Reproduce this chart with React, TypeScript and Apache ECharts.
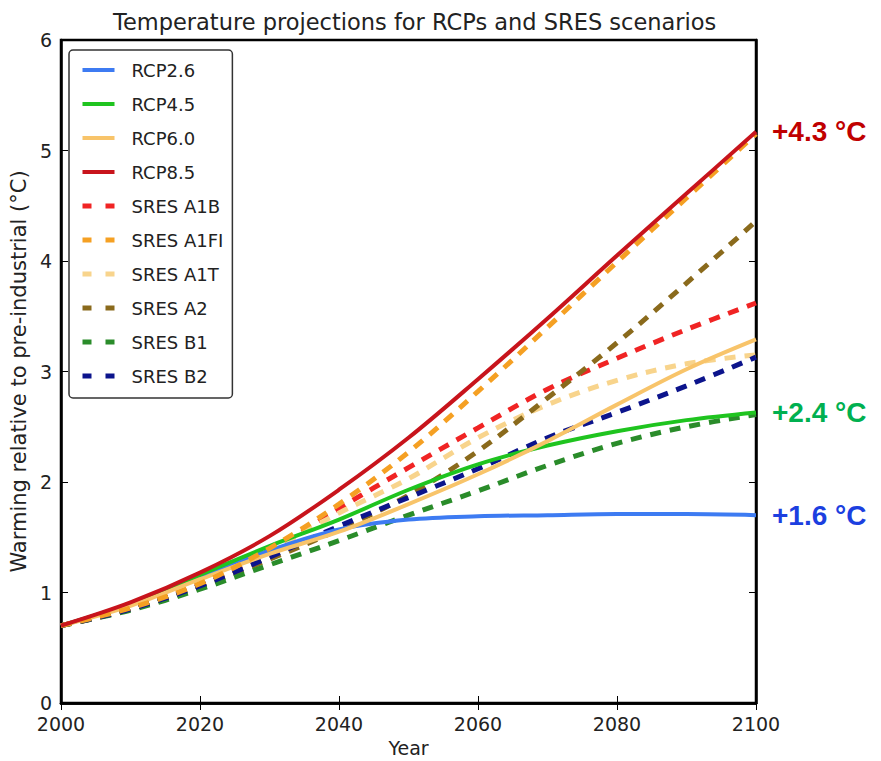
import React, { useEffect, useRef } from "react";
import * as echarts from "echarts";

const years = [2000, 2010, 2020, 2030, 2040, 2050, 2060, 2070, 2080, 2090, 2100];

const rcp26 = [0.70, 0.90, 1.15, 1.38, 1.57, 1.66, 1.69, 1.70, 1.71, 1.71, 1.70];
const rcp45 = [0.70, 0.90, 1.16, 1.42, 1.66, 1.93, 2.16, 2.33, 2.46, 2.56, 2.63];
const rcp60 = [0.70, 0.88, 1.12, 1.35, 1.55, 1.80, 2.07, 2.37, 2.70, 3.02, 3.29];
const rcp85 = [0.70, 0.91, 1.18, 1.51, 1.93, 2.40, 2.93, 3.48, 4.05, 4.61, 5.17];
const sresA1B = [0.70, 0.85, 1.07, 1.37, 1.76, 2.13, 2.49, 2.84, 3.12, 3.38, 3.62];
const sresA1FI = [0.70, 0.86, 1.08, 1.40, 1.80, 2.27, 2.82, 3.40, 3.99, 4.57, 5.15];
const sresA1T = [0.70, 0.86, 1.08, 1.38, 1.72, 2.03, 2.40, 2.70, 2.92, 3.07, 3.15];
const sresA2 = [0.70, 0.85, 1.05, 1.30, 1.57, 1.88, 2.28, 2.76, 3.26, 3.80, 4.36];
const sresB1 = [0.70, 0.84, 1.03, 1.25, 1.47, 1.70, 1.92, 2.15, 2.35, 2.50, 2.61];
const sresB2 = [0.70, 0.85, 1.06, 1.32, 1.60, 1.86, 2.12, 2.40, 2.63, 2.87, 3.13];

const endLabels: Record<string, string> = {
  "RCP2.6": "+1.6 °C",
  "RCP4.5": "+2.4 °C",
  "RCP8.5": "+4.3 °C",
};

const FONT = "'DejaVu Sans', sans-serif";

export default function App() {
  const ref = useRef<HTMLDivElement>(null);
  useEffect(() => {
    if (!ref.current) return;
    const chart = echarts.init(ref.current, undefined, { renderer: "svg" });

    const defs = [
      { name: "RCP8.5", data: rcp85, color: "#c8141c", dashed: false, z: 9, endColor: "#c00000" },
      { name: "RCP2.6", data: rcp26, color: "#3d7bf2", dashed: false, z: 5, endColor: "#1c3fe0" },
      { name: "RCP4.5", data: rcp45, color: "#1fc41f", dashed: false, z: 6, endColor: "#00b050" },
      { name: "RCP6.0", data: rcp60, color: "#f8c46a", dashed: false, z: 7, endColor: "" },
      { name: "SRES A1B", data: sresA1B, color: "#f02424", dashed: true, z: 3, endColor: "" },
      { name: "SRES A1FI", data: sresA1FI, color: "#f5a023", dashed: true, z: 8, endColor: "" },
      { name: "SRES A1T", data: sresA1T, color: "#f8d48c", dashed: true, z: 3, endColor: "" },
      { name: "SRES A2", data: sresA2, color: "#8a6a1c", dashed: true, z: 3, endColor: "" },
      { name: "SRES B1", data: sresB1, color: "#2a8c2a", dashed: true, z: 3, endColor: "" },
      { name: "SRES B2", data: sresB2, color: "#0c148c", dashed: true, z: 3, endColor: "" },
    ];

    const legendOrder = [
      "RCP2.6", "RCP4.5", "RCP6.0", "RCP8.5",
      "SRES A1B", "SRES A1FI", "SRES A1T", "SRES A2", "SRES B1", "SRES B2",
    ];

    const legendData = legendOrder.map((n) => {
      const d = defs.find((x) => x.name === n)!;
      return {
        name: n,
        itemStyle: { opacity: 0 },
        lineStyle: d.dashed
          ? { color: d.color, width: 5, type: [9, 14], opacity: 1 }
          : { color: d.color, width: 4, type: "solid", opacity: 1 },
      };
    });

    const series = defs.map((d) => ({
      name: d.name,
      type: "line",
      data: years.map((y, i) => [y, d.data[i]]),
      smooth: 0.35,
      symbol: "none",
      z: d.z,
      color: d.color,
      lineStyle: d.dashed
        ? { color: d.color, width: 5, type: [11, 9] }
        : { color: d.color, width: 4 },
      endLabel: endLabels[d.name]
        ? {
            show: true,
            formatter: endLabels[d.name],
            color: d.endColor,
            fontSize: 28,
            fontWeight: "bold",
            fontFamily: "'Liberation Sans', Arial, sans-serif",
            distance: 16,
          }
        : { show: false },
      emphasis: { disabled: true },
    }));

    const tickLabelStyle = { fontSize: 19, color: "#222", fontFamily: FONT };

    chart.setOption({
      animation: false,
      backgroundColor: "#ffffff",
      title: {
        text: "Temperature projections for RCPs and SRES scenarios",
        left: 108,
        top: 5,
        textStyle: { fontSize: 22.5, fontWeight: "normal", color: "#222", fontFamily: FONT },
      },
      legend: {
        data: legendData,
        orient: "vertical",
        left: 69,
        top: 50,
        padding: [11, 9, 13, 11],
        itemWidth: 32,
        itemHeight: 14,
        itemGap: 16,
        borderColor: "#333",
        borderWidth: 1.5,
        borderRadius: 4,
        backgroundColor: "#fff",
        itemStyle: { opacity: 0 },
        textStyle: { fontSize: 18, color: "#222", fontFamily: FONT, lineHeight: 18, padding: [0, 0, 0, 12] },
        selectedMode: false,
      },
      grid: {
        left: 61,
        right: 125,
        top: 40,
        bottom: 58,
        show: true,
        borderColor: "#000",
        borderWidth: 2.5,
        backgroundColor: "transparent",
        outerBoundsMode: "none",
      },
      xAxis: [
        {
          type: "value",
          min: 2000,
          max: 2100,
          interval: 20,
          position: "bottom",
          name: "Year",
          nameLocation: "middle",
          nameGap: 35,
          nameTextStyle: { fontSize: 19, color: "#222", fontFamily: FONT },
          axisLine: { show: true, lineStyle: { color: "#000", width: 2.5 } },
          axisTick: { show: true, inside: true, length: 7, lineStyle: { color: "#000", width: 1 } },
          axisLabel: { ...tickLabelStyle, margin: 12, lineHeight: 17, formatter: (v: number) => String(v) },
          splitLine: { show: false },
        },
        {
          type: "value",
          min: 2000,
          max: 2100,
          interval: 20,
          position: "top",
          axisLine: { show: true, lineStyle: { color: "#000", width: 2.5 } },
          axisTick: { show: true, inside: true, length: 7, lineStyle: { color: "#000", width: 1 } },
          axisLabel: { show: false },
          splitLine: { show: false },
        },
      ],
      yAxis: [
        {
          type: "value",
          min: 0,
          max: 6,
          interval: 1,
          position: "left",
          name: "Warming relative to pre-industrial (°C)",
          nameLocation: "middle",
          nameGap: 23,
          nameTextStyle: { fontSize: 21, color: "#222", fontFamily: FONT },
          axisLine: { show: true, lineStyle: { color: "#000", width: 2.5 } },
          axisTick: { show: true, inside: true, length: 7, lineStyle: { color: "#000", width: 1 } },
          axisLabel: { ...tickLabelStyle, margin: 9, lineHeight: 15 },
          splitLine: { show: false },
        },
        {
          type: "value",
          min: 0,
          max: 6,
          interval: 1,
          position: "right",
          axisLine: { show: true, lineStyle: { color: "#000", width: 2.5 } },
          axisTick: { show: true, inside: true, length: 7, lineStyle: { color: "#000", width: 1 } },
          axisLabel: { show: false },
          splitLine: { show: false },
        },
      ],
      series,
    });

    return () => chart.dispose();
  }, []);

  return (
    <div
      ref={ref}
      style={{ position: "fixed", left: 0, top: 0, width: 881, height: 761, background: "#fff" }}
    />
  );
}
